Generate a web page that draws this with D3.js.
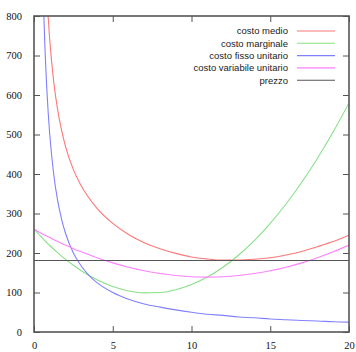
<!DOCTYPE html>
<html>
<head>
<meta charset="utf-8">
<script src="https://cdn.jsdelivr.net/npm/d3@7"></script>
<style>
  body { margin: 0; background: #fff; }
  svg { display: block; }
</style>
</head>
<body>
<div id="myChart"></div>
<script>
// values
let qVals = [0, 0.5, 1, 1.5, 2, 2.5, 3, 4, 5, 6, 7, 8, 9, 10, 11, 12, 13, 14, 15, 16, 17, 18, 19, 20];
let costoVariabile = [260, 249, 239, 229, 220, 211, 203, 188, 175, 164, 155, 148, 143, 140, 139, 140, 143, 148, 155, 164, 175, 188, 203, 220];
let costoMarginale = [260, 239, 219, 201, 184, 169, 155, 132, 115, 104, 99, 100, 107, 120, 139, 164, 195, 232, 275, 324, 379, 440, 507, 580];

let qFisso = [0.55, 0.6, 0.7, 0.8, 0.9, 1, 1.25, 1.5, 1.75, 2, 2.5, 3, 3.5, 4, 5, 6, 7, 8, 9, 10, 11, 12, 13, 14, 15, 16, 17, 18, 19, 20];
let costoFisso = [909, 833, 714, 625, 556, 500, 400, 333, 286, 250, 200, 167, 143, 125, 100, 83, 71, 63, 56, 50, 45, 42, 38, 36, 33, 31, 29, 28, 26, 25];

let qMedio = [0.75, 0.8, 0.9, 1, 1.25, 1.5, 1.75, 2, 2.5, 3, 4, 5, 6, 7, 8, 9, 10, 11, 12, 13, 14, 15, 16, 17, 18, 19, 20];
let costoMedio = [907, 868, 797, 739, 634, 563, 511, 470, 411, 370, 313, 275, 247, 226, 211, 199, 190, 185, 182, 182, 184, 188, 195, 204, 216, 229, 245];

let prezzo = 181;

let xTicks = [0, 5, 10, 15, 20];
let yTicks = [0, 100, 200, 300, 400, 500, 600, 700, 800];

let legendNames = ["costo medio", "costo marginale", "costo fisso unitario", "costo variabile unitario", "prezzo"];
let legendColors = ["#ff7777", "#88e088", "#8080ff", "#ff80ff", "#555555"];

// set the dimensions and margins of the graph
let margin = {top: 16, right: 7, bottom: 20, left: 34},
    width = 356 - margin.left - margin.right,
    height = 352 - margin.top - margin.bottom;

let svg = d3.select("#myChart")
  .append("svg")
    .attr("width", 356)
    .attr("height", 352)
  .append("g")
    .attr("transform", "translate(" + margin.left + "," + margin.top + ")");

let x = d3.scaleLinear().domain([0, 20]).range([0, width]);
let y = d3.scaleLinear().domain([0, 800]).range([height, 0]);

svg.append("clipPath").attr("id", "clip")
  .append("rect").attr("width", width).attr("height", height);

let frameColor = "#555";
let tickLen = 6;

// ticks (inward, mirrored)
function styleAxis(g) {
  g.select(".domain").remove();
  g.selectAll(".tick line").attr("stroke", frameColor);
  g.selectAll(".tick text")
    .attr("fill", "#111")
    .style("font-family", "'Liberation Serif', 'DejaVu Serif', serif")
    .style("font-size", "10.5px");
}

svg.append("g")
  .attr("transform", "translate(0," + height + ")")
  .call(d3.axisBottom(x).tickValues(xTicks).tickSize(-tickLen).tickPadding(10))
  .call(styleAxis);

svg.append("g")
  .call(d3.axisTop(x).tickValues(xTicks).tickSize(-tickLen).tickFormat(""))
  .call(styleAxis);

svg.append("g")
  .call(d3.axisLeft(y).tickValues(yTicks).tickSize(-tickLen).tickPadding(12))
  .call(styleAxis);

svg.append("g")
  .attr("transform", "translate(" + width + ",0)")
  .call(d3.axisRight(y).tickValues(yTicks).tickSize(-tickLen).tickFormat(""))
  .call(styleAxis);

// curves
let line = d3.line()
  .x(function(d) { return x(d[0]); })
  .y(function(d) { return y(d[1]); })
  .curve(d3.curveMonotoneX);

let plot = svg.append("g").attr("clip-path", "url(#clip)");

let series = [
  {q: qMedio, v: costoMedio, c: legendColors[0]},
  {q: qVals, v: costoMarginale, c: legendColors[1]},
  {q: qFisso, v: costoFisso, c: legendColors[2]},
  {q: qVals, v: costoVariabile, c: legendColors[3]}
];

series.forEach(function(s) {
  plot.append("path")
    .datum(d3.zip(s.q, s.v))
    .attr("fill", "none")
    .attr("stroke", s.c)
    .attr("stroke-width", 1.1)
    .attr("d", line);
});

// prezzo
plot.append("line")
  .attr("x1", x(0)).attr("x2", x(20))
  .attr("y1", y(prezzo)).attr("y2", y(prezzo))
  .attr("stroke", legendColors[4])
  .attr("stroke-width", 1);

// frame
svg.append("rect")
  .attr("width", width)
  .attr("height", height)
  .attr("fill", "none")
  .attr("stroke", frameColor)
  .attr("stroke-width", 1.6);

// legend
let legend = svg.append("g").attr("transform", "translate(254,15)");
legendNames.forEach(function(name, i) {
  let row = legend.append("g").attr("transform", "translate(0," + (i * 12.3) + ")");
  row.append("text")
    .attr("x", 0)
    .attr("y", 0)
    .attr("dy", "0.35em")
    .attr("text-anchor", "end")
    .style("font-family", "'Liberation Sans', Arial, sans-serif")
    .style("font-size", "9.5px")
    .attr("fill", "#222")
    .text(name);
  row.append("line")
    .attr("x1", 9).attr("x2", 47)
    .attr("y1", 0).attr("y2", 0)
    .attr("stroke", legendColors[i])
    .attr("stroke-width", 1.1);
});
</script>
</body>
</html>
